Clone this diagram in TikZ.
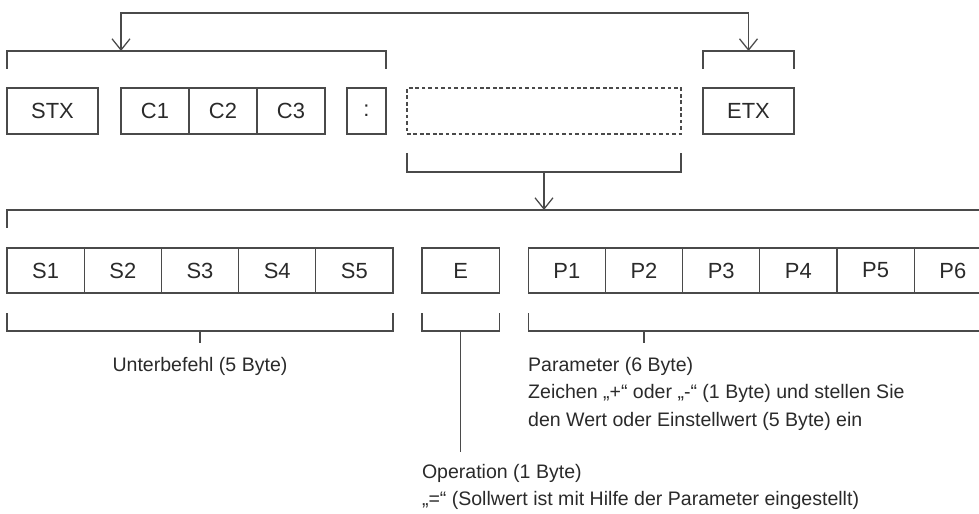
\documentclass[tikz,border=0pt]{standalone}
\usepackage{fontspec}
\setmainfont{Liberation Sans}
\usepackage{xcolor}
\usepackage{tikz}
\usetikzlibrary{arrows.meta, positioning}
\definecolor{boxline}{HTML}{4A4A4A}
\definecolor{labeltext}{HTML}{2A2A2A}

\begin{document}
\begin{tikzpicture}[
        font=\fontsize{13.9pt}{19.6pt}\selectfont,
        text=labeltext,
        >={Straight Barb[length=0.28cm, width=0.45cm]},
        field/.style={rectangle, draw=boxline, line width=0.9pt, inner sep=0pt, outer sep=0pt, minimum height=1.15cm, font=\fontsize{15.6pt}{18pt}\selectfont},
        byte/.style={field, minimum width=1.93cm, minimum height=1.125cm},
        bracket/.style={draw=boxline, line width=0.9pt},
        note/.style={inner sep=0pt, outer sep=0pt, align=left}
    ]
        \useasboundingbox (0,0) rectangle (24.475,-12.85);
        \clip (0,0) rectangle (24.475,-12.85);

        \node[field, minimum width=2.275cm] (stx) at (1.3125,-2.775) {STX};
        \node[field, minimum width=1.7cm, right=0.575cm of stx] (c1) {C1};
        \node[field, minimum width=1.7cm, right=0pt of c1] (c2) {C2};
        \node[field, minimum width=1.7cm, right=0pt of c2] (c3) {C3};
        \node[field, minimum width=0.975cm, right=0.55cm of c3] (colon) {:};
        \node[field, dashed, dash pattern=on 2.6pt off 2pt, minimum width=6.85cm, right=0.525cm of colon] (subcmd) {};
        \node[field, minimum width=2.275cm, right=0.55cm of subcmd] (etx) {ETX};

        \node[byte] (s1) at (1.14,-6.7625) {S1};
        \node[byte, right=0pt of s1] (s2) {S2};
        \node[byte, right=0pt of s2] (s3) {S3};
        \node[byte, right=0pt of s3] (s4) {S4};
        \node[byte, right=0pt of s4] (s5) {S5};
        \node[byte, right=0.725cm of s5] (op) {E};
        \node[byte, right=0.725cm of op] (p1) {P1};
        \node[byte, right=0pt of p1] (p2) {P2};
        \node[byte, right=0pt of p2] (p3) {P3};
        \node[byte, right=0pt of p3] (p4) {P4};
        \node[byte, right=0pt of p4] (p5) {P5};
        \node[byte, right=0pt of p5] (p6) {P6};

        \coordinate (cmdin) at ([yshift=0.925cm]c1.north west);
        \coordinate (etxin) at ([yshift=0.925cm]etx.north);
        \coordinate (fieldtop) at ([yshift=0.95cm]s1.north west);
        \coordinate (subbot) at ([yshift=-0.95cm]s3.south);
        \coordinate (substem) at ([yshift=-0.3cm]subbot);
        \coordinate (opbot) at ([yshift=-0.95cm]op.south);
        \coordinate (opstem) at ([yshift=-3.025cm]opbot);
        \coordinate (parbot) at ([yshift=-0.95cm]p2.south);
        \coordinate (parstem) at ([yshift=-0.3cm]parbot);

        \node[note, below=0.35cm of substem] (subtext) {Unterbefehl (5 Byte)};
        \node[note, anchor=north west] (partext) at (p1.south west |- subtext.north)
            {Parameter (6 Byte)\\Zeichen „+“ oder „-“ (1 Byte) und stellen Sie\\den Wert oder Einstellwert (5 Byte) ein};
        \node[note, anchor=north west] (optext) at ([yshift=-0.3cm]op.south west |- opstem)
            {Operation (1 Byte)\\„=“ (Sollwert ist mit Hilfe der Parameter eingestellt)};

        \draw[bracket] ([yshift=0.475cm]stx.north west) -- ([yshift=0.925cm]stx.north west) -- ([yshift=0.925cm]colon.north east) -- ([yshift=0.475cm]colon.north east);
        \draw[bracket] ([yshift=0.475cm]etx.north west) -- ([yshift=0.925cm]etx.north west) -- ([yshift=0.925cm]etx.north east) -- ([yshift=0.475cm]etx.north east);
        \draw[bracket, <->] (cmdin) -- ++(0,0.95cm) -| (etxin);
        \draw[bracket] ([yshift=-0.475cm]subcmd.south west) -- ([yshift=-0.95cm]subcmd.south west) -- ([yshift=-0.95cm]subcmd.south east) -- ([yshift=-0.475cm]subcmd.south east);
        \draw[bracket] ([yshift=0.5cm]s1.north west) -- (fieldtop) -- ([yshift=0.95cm]p6.north east) -- ([yshift=0.5cm]p6.north east);
        \draw[bracket, ->] ([yshift=-0.95cm]subcmd.south) -- (fieldtop -| subcmd.south);

        \draw[bracket] ([yshift=-0.5cm]s1.south west) -- ([yshift=-0.95cm]s1.south west) -- ([yshift=-0.95cm]s5.south east) -- ([yshift=-0.5cm]s5.south east);
        \draw[bracket] ([yshift=-0.5cm]op.south west) -- ([yshift=-0.95cm]op.south west) -- ([yshift=-0.95cm]op.south east) -- ([yshift=-0.5cm]op.south east);
        \draw[bracket] ([yshift=-0.5cm]p1.south west) -- ([yshift=-0.95cm]p1.south west) -- ([yshift=-0.95cm]p6.south east) -- ([yshift=-0.5cm]p6.south east);
        \draw[bracket] (subbot) -- (substem);
        \draw[bracket] (opbot) -- (opstem);
        \draw[bracket] (parbot) -- (parstem);
    \end{tikzpicture}
\end{document}
